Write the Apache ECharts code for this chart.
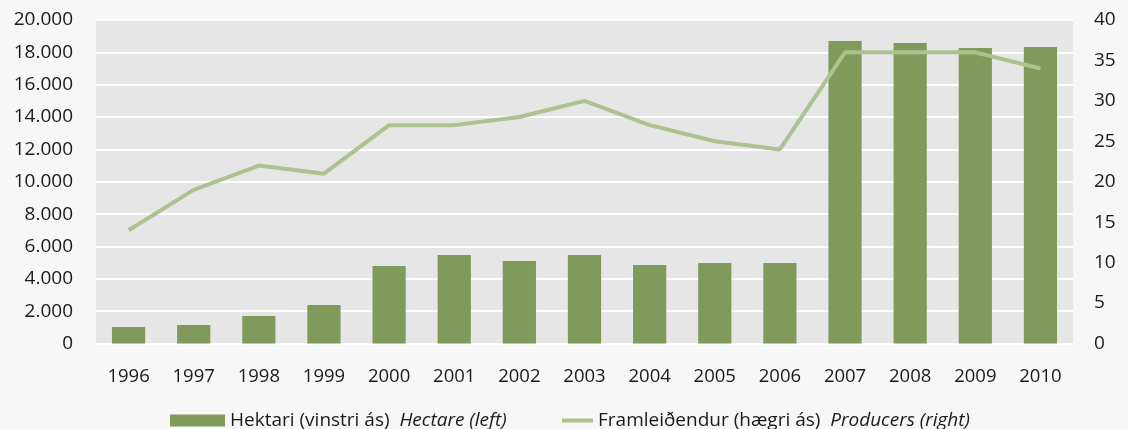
<!DOCTYPE html>
<html>
<head>
<meta charset="utf-8">
<script src="https://cdn.jsdelivr.net/npm/echarts@6/dist/echarts.min.js"></script>
<style>
  html, body { margin: 0; padding: 0; background: #f7f7f7; }
  #chart { width: 1128px; height: 429px; }
</style>
</head>
<body>
<div id="chart"></div>
<script>
const years = ['1996', '1997', '1998', '1999', '2000', '2001', '2002', '2003',
  '2004', '2005', '2006', '2007', '2008', '2009', '2010'];
const hectares = [1020, 1140, 1700, 2380, 4790, 5470, 5100, 5470, 4850, 4980, 4980,
  18700, 18580, 18270, 18330];
const producers = [14, 19, 22, 21, 27, 27, 28, 30, 27, 25, 24, 36, 36, 36, 34];
const leftTicks = [0, 20000, 2000];
const rightTicks = [0, 40, 5];

const barColor = '#809a5c';
const lineColor = '#adc291';
const textColor = '#1a1a1a';
const font = 'Open Sans';

const chart = echarts.init(document.getElementById('chart'));

const rich = {
  n: { fontFamily: font, fontSize: 19, color: textColor },
  i: { fontFamily: font, fontSize: 19, color: textColor, fontStyle: 'italic' }
};

chart.setOption({
  backgroundColor: '#f7f7f7',
  animation: false,
  grid: {
    left: 96, right: 55, top: 20, bottom: 85.5,
    show: true, backgroundColor: '#e6e6e6', borderWidth: 0
  },
  legend: [
    {
      data: ['Hektari'],
      left: 165, top: 406,
      icon: 'rect', itemWidth: 55, itemHeight: 12, itemGap: 10,
      formatter: () => '{n|Hektari (vinstri ás)  }{i|Hectare (left)}',
      textStyle: { rich: rich }
    },
    {
      data: ['Framleiðendur'],
      left: 557, top: 406,
      icon: 'rect', itemWidth: 31, itemHeight: 4, itemGap: 10,
      formatter: () => '{n|Framleiðendur (hægri ás)  }{i|Producers (right)}',
      textStyle: { rich: rich }
    }
  ],
  xAxis: {
    type: 'category',
    data: years,
    axisLine: { show: true, lineStyle: { color: '#ffffff', width: 2 } },
    axisTick: { show: false },
    axisLabel: { fontFamily: font, fontSize: 18.5, color: textColor, margin: 24 }
  },
  yAxis: [
    {
      type: 'value',
      min: leftTicks[0], max: leftTicks[1], interval: leftTicks[2],
      axisLine: { show: false },
      axisTick: { show: false },
      splitLine: { lineStyle: { color: '#ffffff', width: 2 } },
      axisLabel: {
        fontFamily: font, fontSize: 19, color: textColor, margin: 23,
        formatter: v => v === 0 ? '0' : (v / 1000).toFixed(3)
      }
    },
    {
      type: 'value',
      min: rightTicks[0], max: rightTicks[1], interval: rightTicks[2],
      axisLine: { show: false },
      axisTick: { show: false },
      splitLine: { show: false },
      axisLabel: { fontFamily: font, fontSize: 19, color: textColor, margin: 21 }
    }
  ],
  series: [
    {
      name: 'Hektari',
      type: 'bar',
      data: hectares,
      barWidth: '51%',
      itemStyle: { color: barColor }
    },
    {
      name: 'Framleiðendur',
      type: 'line',
      yAxisIndex: 1,
      data: producers,
      symbol: 'none',
      lineStyle: { color: lineColor, width: 4 },
      itemStyle: { color: lineColor }
    }
  ]
});
</script>
</body>
</html>
